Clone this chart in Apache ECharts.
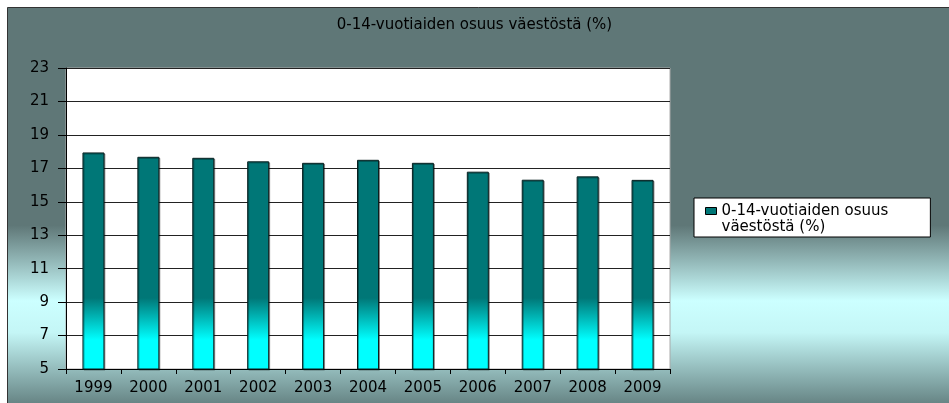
<!DOCTYPE html>
<html>
<head>
<meta charset="utf-8">
<script src="https://cdn.jsdelivr.net/npm/echarts@6/dist/echarts.min.js"></script>
<style>
  html, body { margin: 0; padding: 0; background: #fff; }
  #chart { width: 949px; height: 403px; }
</style>
</head>
<body>
<div id="chart"></div>
<script>
const titleText = "0-14-vuotiaiden osuus väestöstä (%)";
const years = ["1999", "2000", "2001", "2002", "2003", "2004", "2005", "2006", "2007", "2008", "2009"];
const share = [17.95, 17.69, 17.63, 17.42, 17.33, 17.51, 17.33, 16.8, 16.32, 16.52, 16.31];

const font = "DejaVu Sans";
const chart = echarts.init(document.getElementById("chart"));

chart.setOption({
  animation: false,
  graphic: [
    {
      type: "rect",
      z: -100,
      shape: { x: 7.5, y: 7.5, width: 960, height: 396 },
      style: {
        fill: {
          type: "linear", x: 0, y: 0, x2: 0, y2: 1,
          colorStops: [
            { offset: 0, color: "#5f7777" },
            { offset: 0.55, color: "#5f7777" },
            { offset: 0.74, color: "#ccffff" },
            { offset: 0.82, color: "#c4f6f6" },
            { offset: 1, color: "#668484" }
          ]
        },
        stroke: "#333",
        lineWidth: 1
      }
    }
  ],
  title: {
    text: titleText,
    left: "center",
    top: 13,
    padding: [5, 5, 5, 25],
    textStyle: { fontFamily: font, fontSize: 15, fontWeight: "normal", color: "#000" }
  },
  legend: {
    left: 694,
    top: 198,
    orient: "vertical",
    padding: [5, 42, 1, 11],
    backgroundColor: "#fff",
    borderColor: "#000",
    borderWidth: 1,
    itemWidth: 11,
    itemHeight: 32,
    itemGap: 4,
    icon: "path://M0,0M0,4h11v7h-11zM0,32",
    itemStyle: { color: "#007777", borderColor: "#000", borderWidth: 1 },
    formatter: function () {
      return "0-14-vuotiaiden osuus\nväestöstä (%)";
    },
    textStyle: { fontFamily: font, fontSize: 15, color: "#000", lineHeight: 16 }
  },
  grid: {
    left: 66,
    top: 68,
    right: 279,
    bottom: 34,
    show: true,
    backgroundColor: "#fff",
    borderColor: "#aaa",
    borderWidth: 1
  },
  xAxis: {
    type: "category",
    data: years,
    axisLine: { lineStyle: { color: "#000", width: 1 } },
    axisTick: { show: true, length: 5, lineStyle: { color: "#000" } },
    axisLabel: { margin: 12, fontFamily: font, fontSize: 15, color: "#000" }
  },
  yAxis: {
    type: "value",
    min: 5,
    max: 23,
    interval: 2,
    axisLine: { show: true, lineStyle: { color: "#000", width: 1 } },
    axisTick: { show: true, length: 8, lineStyle: { color: "#000" } },
    axisLabel: { margin: 17, fontFamily: font, fontSize: 15, color: "#000" },
    splitLine: { lineStyle: { color: "#222", width: 1 } }
  },
  series: [
    {
      name: titleText,
      type: "bar",
      data: share,
      barWidth: 22,
      itemStyle: {
        color: {
          type: "linear", x: 0, y: 298, x2: 0, y2: 340, global: true,
          colorStops: [
            { offset: 0, color: "#007777" },
            { offset: 1, color: "#00ffff" }
          ]
        },
        borderColor: "#0a1f1f",
        borderWidth: 1,
        shadowColor: "rgba(0,0,0,0.35)",
        shadowOffsetX: 1,
        shadowOffsetY: 1
      }
    }
  ]
});
</script>
</body>
</html>
